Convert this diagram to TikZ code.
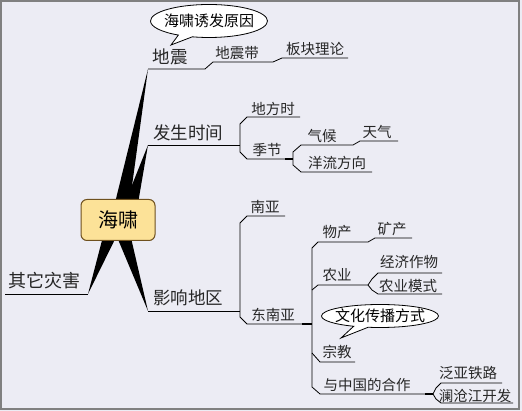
\documentclass[tikz,border=0pt]{standalone}
\usepackage{fontspec}
\setmainfont{Noto Sans CJK SC}
\usetikzlibrary{shapes.geometric,shapes.callouts}

\definecolor{bgcol}{RGB}{236,236,244}
\definecolor{rootfill}{RGB}{252,226,152}
\definecolor{rootline}{RGB}{110,80,30}

\tikzset{
    txt/.style={inner sep=0pt, text=black!85},
    big/.style={txt, font=\fontsize{17.5}{20}\selectfont},
    small/.style={txt, font=\fontsize{14.5}{17}\selectfont},
    wire/.style={line width=0.8pt},
    stub/.style={line width=2pt},
    bubble/.style={ellipse callout, draw, fill=white, line width=0.8pt, inner sep=0pt,
        font=\fontsize{15}{18}\selectfont},
    rootbox/.style={draw=rootline, fill=rootfill, line width=1pt, rounded corners=6pt,
        minimum width=74pt, minimum height=41pt, font=\fontsize{20}{24}\selectfont}
}

\begin{document}
\begin{tikzpicture}[x=1pt,y=-1pt]
    % Background and frame
    \fill[bgcol] (0,0) rectangle (522,411);
    \draw[gray, line width=1.5pt] (1,1) rectangle (519,409);
    \useasboundingbox (0,0) rectangle (522,411);

    % Spoke tips and joints
    \coordinate (dz) at (148,69);
    \coordinate (fs) at (148,145);
    \coordinate (qt) at (88,294);
    \coordinate (yx) at (148,311);
    \coordinate (fs-j) at (240,145);
    \coordinate (jj-j) at (285,159);
    \coordinate (jj-k) at (293,159);
    \coordinate (yx-j) at (240,311);
    \coordinate (dny-j) at (302,324);
    \coordinate (dny-k) at (312,324);
    \coordinate (ny2-j) at (368,285);
    \coordinate (yzg-j) at (425,394);
    \coordinate (yzg-k) at (433,394);

    % Free ends
    \coordinate (bk-e) at (348,58);
    \coordinate (dfs-e) at (300,117);
    \coordinate (tq-e) at (398,141);
    \coordinate (ylfx-e) at (372,172);
    \coordinate (qt-e) at (5,294);
    \coordinate (ny-e) at (285,216);
    \coordinate (kc-e) at (412,238);
    \coordinate (jjzw-e) at (442,273);
    \coordinate (nyms-e) at (442,294);
    \coordinate (zj-e) at (355,362);
    \coordinate (fytl-e) at (502,383);
    \coordinate (lcj-e) at (513,403);

    % Thick spokes
    \fill (112,215) -- (128,215) -- (dz) -- cycle;
    \fill (120,215) -- (136,215) -- (fs) -- cycle;
    \fill (106,225) -- (122,225) -- (qt) -- cycle;
    \fill (112,225) -- (128,225) -- (yx) -- cycle;

    % Centre
    \node[rootbox] (hx) at (118,220) {海啸};

    % Underlines
    \draw[wire] (dz) -- (205,69) -- (213,62) -- (273,62) -- (282,58) -- (bk-e);
    \draw[wire] (fs) -- (fs-j);
    \draw[wire] (dfs-e) -- (247,117) -- (240,124) -- (fs-j) -- (240,152) -- (247,159) -- (jj-j);
    \draw[stub] (jj-j) -- (jj-k);
    \draw[wire] (tq-e) -- (360,141) -- (353,145) -- (301,145) -- (293,152) -- (jj-k)
        -- (293,165) -- (301,172) -- (ylfx-e);
    \draw[wire] (qt) -- (qt-e);
    \draw[wire] (yx) -- (yx-j);
    \draw[wire] (ny-e) -- (247,216) -- (240,223) -- (yx-j) -- (240,317) -- (247,324) -- (dny-j);
    \draw[stub] (dny-j) -- (dny-k);
    \draw[wire] (kc-e) -- (375,238) -- (368,242) -- (318,242) -- (312,248) -- (dny-k)
        -- (312,387) -- (320,394) -- (yzg-j);
    \draw[wire] (312,290) -- (318,285) -- (ny2-j);
    \draw[wire] (312,353) -- (320,362) -- (zj-e);
    \draw[wire] (jjzw-e) -- (378,273) -- (372,279) -- (ny2-j) -- (372,290) -- (378,294) -- (nyms-e);
    \draw[stub] (yzg-j) -- (yzg-k);
    \draw[wire] (fytl-e) -- (441,383) -- (436,388) -- (yzg-k) -- (436,399) -- (441,403) -- (lcj-e);

    % Topics
    \node[big] (dizhen) at (170,57) {地震};
    \node[small] (dzd) at (237,53) {地震带};
    \node[small] (bkll) at (315,49) {板块理论};
    \node[big] (fssj) at (188,133) {发生时间};
    \node[small] (dfs) at (273,109) {地方时};
    \node[small] (jijie) at (267,150) {季节};
    \node[small] (qh) at (322,136) {气候};
    \node[small] (tq) at (377,132) {天气};
    \node[small] (ylfx) at (337,163) {洋流方向};
    \node[big, font=\fontsize{18}{21}\selectfont] (qtzh) at (45,281) {其它灾害};
    \node[big] (yxdq) at (188,298) {影响地区};
    \node[small] (nanya) at (265,207) {南亚};
    \node[small] (dny) at (273,315) {东南亚};
    \node[small] (wuchan) at (337,232) {物产};
    \node[small] (kc) at (392,229) {矿产};
    \node[small] (nongye) at (337,275) {农业};
    \node[small] (jjzw) at (409,262) {经济作物};
    \node[small] (nyms) at (408,286) {农业模式};
    \node[small] (zj) at (337,352) {宗教};
    \node[small] (yzg) at (367,385) {与中国的合作};
    \node[small] (fytl) at (468,373) {泛亚铁路};
    \node[small] (lcj) at (475,396) {澜沧江开发};

    % Callouts
    \node[bubble, minimum width=117pt, minimum height=33pt,
        callout absolute pointer={(171,45)}] (cause) at (209,21) {\makebox[0pt]{海啸诱发原因}};
    \node[bubble, minimum width=117pt, minimum height=23pt,
        callout absolute pointer={(341,338)}] (spread) at (380,316) {\makebox[0pt]{文化传播方式}};
\end{tikzpicture}
\end{document}
